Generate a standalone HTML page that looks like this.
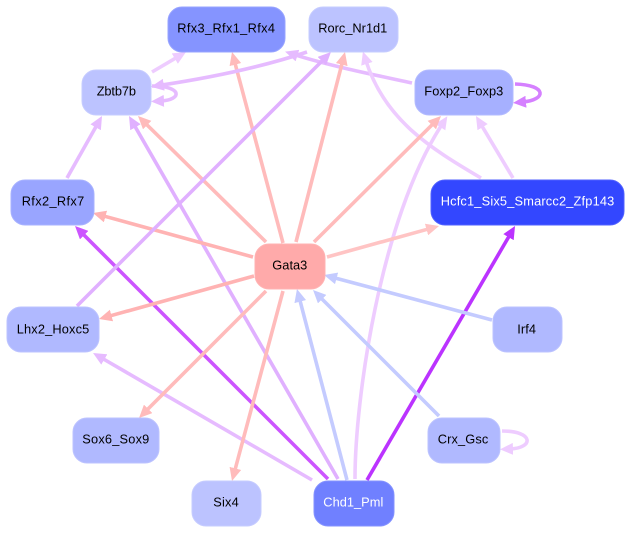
<!DOCTYPE html>
<html><head><meta charset="utf-8"><style>
html,body{margin:0;padding:0;background:#fff}
svg{display:block}
text{font-family:"Liberation Sans",sans-serif;font-size:12.8px;text-anchor:start;fill:#000}
text.w{fill:#fff}
path{fill:none;stroke-width:3.6}
rect{rx:14px;ry:14px;stroke-width:1}
</style></head><body>
<svg width="631" height="533" viewBox="0 0 631 533" xmlns="http://www.w3.org/2000/svg">
<defs>
<marker id="a1" markerUnits="userSpaceOnUse" markerWidth="14" markerHeight="12" refX="3" refY="6" orient="auto"><polygon points="0,0 13,6 0,12" fill="#eeccff"/></marker>
<marker id="a2" markerUnits="userSpaceOnUse" markerWidth="14" markerHeight="12" refX="3" refY="6" orient="auto"><polygon points="0,0 13,6 0,12" fill="#ffbbbb"/></marker>
<marker id="a3" markerUnits="userSpaceOnUse" markerWidth="14" markerHeight="12" refX="3" refY="6" orient="auto"><polygon points="0,0 13,6 0,12" fill="#e6bbff"/></marker>
<marker id="a4" markerUnits="userSpaceOnUse" markerWidth="14" markerHeight="12" refX="3" refY="6" orient="auto"><polygon points="0,0 13,6 0,12" fill="#e0b0ff"/></marker>
<marker id="a5" markerUnits="userSpaceOnUse" markerWidth="14" markerHeight="12" refX="3" refY="6" orient="auto"><polygon points="0,0 13,6 0,12" fill="#ffb3b3"/></marker>
<marker id="a6" markerUnits="userSpaceOnUse" markerWidth="14" markerHeight="12" refX="3" refY="6" orient="auto"><polygon points="0,0 13,6 0,12" fill="#cc55ff"/></marker>
<marker id="a7" markerUnits="userSpaceOnUse" markerWidth="14" markerHeight="12" refX="3" refY="6" orient="auto"><polygon points="0,0 13,6 0,12" fill="#d580ff"/></marker>
<marker id="a8" markerUnits="userSpaceOnUse" markerWidth="14" markerHeight="12" refX="3" refY="6" orient="auto"><polygon points="0,0 13,6 0,12" fill="#bb33ff"/></marker>
<marker id="a9" markerUnits="userSpaceOnUse" markerWidth="14" markerHeight="12" refX="3" refY="6" orient="auto"><polygon points="0,0 13,6 0,12" fill="#c4cbff"/></marker>
<marker id="a10" markerUnits="userSpaceOnUse" markerWidth="14" markerHeight="12" refX="3" refY="6" orient="auto"><polygon points="0,0 13,6 0,12" fill="#ffc4c4"/></marker>
</defs>

<path d="M152,72L177.4,57.1" stroke="#eeccff" marker-end="url(#a1)"/>
<path d="M283,243L234.6,61.7" stroke="#ffbbbb" marker-end="url(#a2)"/>
<path d="M412,83C380,76 330,66 294.6,54.7" stroke="#e6bbff" marker-end="url(#a3)"/>
<path d="M307,52C265,66 215,77 160.8,85.2" stroke="#e6bbff" marker-end="url(#a3)"/>
<path d="M152,86C183,86 182,100 161,101" stroke="#e6bbff" marker-end="url(#a3)"/>
<path d="M67,178L97.1,124.7" stroke="#e6bbff" marker-end="url(#a3)"/>
<path d="M338,479L134,124.7" stroke="#e0b0ff" marker-end="url(#a4)"/>
<path d="M266,242L145.1,123" stroke="#ffbbbb" marker-end="url(#a2)"/>
<path d="M253,257L102.6,215.7" stroke="#ffb3b3" marker-end="url(#a5)"/>
<path d="M328,479L82.1,233.1" stroke="#cc55ff" marker-end="url(#a6)"/>
<path d="M77,306L323.9,59.1" stroke="#e0b0ff" marker-end="url(#a4)"/>
<path d="M296,242L342.5,61.7" stroke="#ffbbbb" marker-end="url(#a2)"/>
<path d="M481,178C430,148 385,120 366,61" stroke="#eeccff" marker-end="url(#a1)"/>
<path d="M515,84C548,85 546,100 523,102" stroke="#d580ff" marker-end="url(#a7)"/>
<path d="M355,479C355,400 380,220 441.9,124.6" stroke="#eeccff" marker-end="url(#a1)"/>
<path d="M314,242L433.9,123" stroke="#ffbbbb" marker-end="url(#a2)"/>
<path d="M513,178L481.1,124.6" stroke="#eeccff" marker-end="url(#a1)"/>
<path d="M327,257L429.4,228.7" stroke="#ffc4c4" marker-end="url(#a10)"/>
<path d="M367,480L510,234.6" stroke="#bb33ff" marker-end="url(#a8)"/>
<path d="M254,276L108.6,316.3" stroke="#ffb3b3" marker-end="url(#a5)"/>
<path d="M312,480L101.7,358" stroke="#e6bbff" marker-end="url(#a3)"/>
<path d="M266,291L146.1,410.9" stroke="#ffbbbb" marker-end="url(#a2)"/>
<path d="M283,291L234.6,471.3" stroke="#ffbbbb" marker-end="url(#a2)"/>
<path d="M347,480L299.5,298.7" stroke="#c4cbff" marker-end="url(#a9)"/>
<path d="M492,320L333.7,277.6" stroke="#c4cbff" marker-end="url(#a9)"/>
<path d="M439,416L320.1,297.1" stroke="#c4cbff" marker-end="url(#a9)"/>
<path d="M502,431C534,431 534,448 510,449" stroke="#eeccff" marker-end="url(#a1)"/>

<rect x="168" y="7" width="117" height="45" fill="#8594ff" stroke="#98a4ff"/>
<text x="177.3" y="32.5" textLength="97.7" lengthAdjust="spacing">Rfx3_Rfx1_Rfx4</text>
<rect x="309" y="7" width="89" height="45" fill="#bcc3ff" stroke="#c6ccff"/>
<text x="318.3" y="32.5" textLength="69" lengthAdjust="spacing">Rorc_Nr1d1</text>
<rect x="82" y="70" width="69" height="45" fill="#bcc3ff" stroke="#c6ccff"/>
<text x="96.7" y="95.5" textLength="39.3" lengthAdjust="spacing">Zbtb7b</text>
<rect x="415" y="70" width="98" height="45" fill="#a6b0ff" stroke="#b3bbff"/>
<text x="424.3" y="95.5" textLength="79" lengthAdjust="spacing">Foxp2_Foxp3</text>
<rect x="11" y="180" width="83" height="45" fill="#99a5ff" stroke="#a8b2ff"/>
<text x="21.7" y="205.5" textLength="62.6" lengthAdjust="spacing">Rfx2_Rfx7</text>
<rect x="431" y="180" width="193" height="45" fill="#3347ff" stroke="#5061ff"/>
<text class="w" x="440.7" y="205.5" textLength="173.6" lengthAdjust="spacing">Hcfc1_Six5_Smarcc2_Zfp143</text>
<rect x="255" y="244" width="70" height="45" fill="#ffaaaa" stroke="#ffb3b3"/>
<text x="272.3" y="269.5" textLength="35" lengthAdjust="spacing">Gata3</text>
<rect x="7" y="307" width="92" height="45" fill="#b0b9ff" stroke="#bcc3ff"/>
<text x="16.7" y="333.5" textLength="72.6" lengthAdjust="spacing">Lhx2_Hoxc5</text>
<rect x="493" y="307" width="69" height="45" fill="#b0b9ff" stroke="#bcc3ff"/>
<text x="517.3" y="333.5" textLength="18.7" lengthAdjust="spacing">Irf4</text>
<rect x="73" y="418" width="86" height="45" fill="#b0b9ff" stroke="#bcc3ff"/>
<text x="82.3" y="443.5" textLength="67" lengthAdjust="spacing">Sox6_Sox9</text>
<rect x="428" y="418" width="72" height="45" fill="#b0b9ff" stroke="#bcc3ff"/>
<text x="437.7" y="443.5" textLength="50.6" lengthAdjust="spacing">Crx_Gsc</text>
<rect x="192" y="481" width="69" height="45" fill="#bcc3ff" stroke="#c6ccff"/>
<text x="213.3" y="506.5" textLength="25.4" lengthAdjust="spacing">Six4</text>
<rect x="314" y="481" width="80" height="45" fill="#7080ff" stroke="#8492ff"/>
<text class="w" x="323.3" y="506.5" textLength="60" lengthAdjust="spacing">Chd1_Pml</text>
</svg>
</body></html>
